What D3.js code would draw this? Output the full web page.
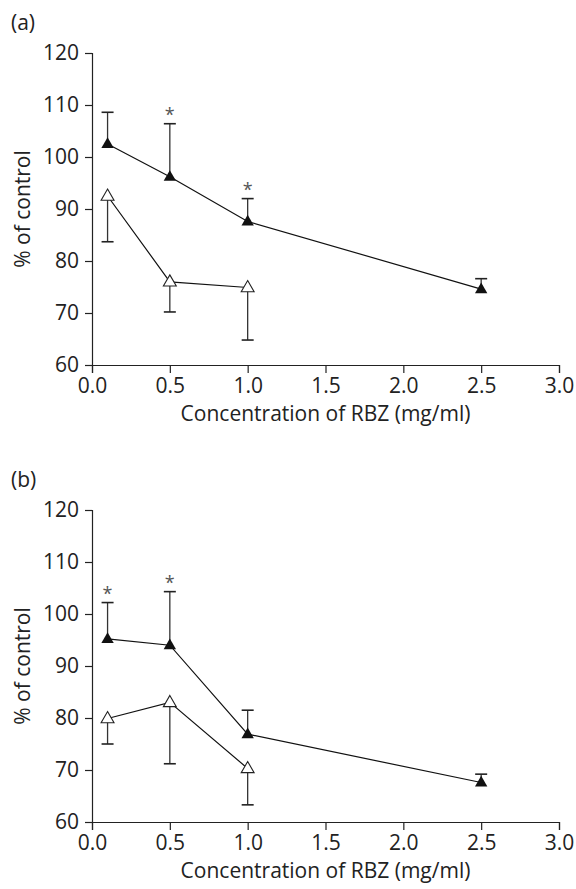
<html>
<script src="https://d3js.org/d3.v7.min.js"></script>
<style>
body{margin:0;background:#fff;}
svg text{font-family:"Open Sans",sans-serif;fill:#222;}
</style>
<div class="visualizations"></div>
<script>
const doses = [0.1, 0.5, 1.0, 2.5];
const xTicks = [0, 0.5, 1.0, 1.5, 2.0, 2.5, 3.0];
const yTicks = [60, 70, 80, 90, 100, 110, 120];

// panel (a)
const aFilledMean = [102.5, 96.2, 87.6, 74.6];
const aFilledSd = [6.1, 10.2, 4.4, 2.0];
const aOpenMean = [92.5, 76.0, 74.9];
const aOpenSd = [8.8, 5.8, 10.1];
const aStars = [0.5, 1.0];

// panel (b)
const bFilledMean = [95.2, 94.0, 76.9, 67.6];
const bFilledSd = [7.0, 10.3, 4.6, 1.6];
const bOpenMean = [79.9, 83.0, 70.3];
const bOpenSd = [4.9, 11.8, 7.0];
const bStars = [0.1, 0.5];

const panels = [
  {label:'(a)', top:53, filled:aFilledMean, filledSd:aFilledSd, open:aOpenMean, openSd:aOpenSd, stars:aStars},
  {label:'(b)', top:510, filled:bFilledMean, filledSd:bFilledSd, open:bOpenMean, openSd:bOpenSd, stars:bStars}
];

const width = 576, height = 889;
const left = 92, plotWidth = 467, plotHeight = 312;

const svg = d3.select('.visualizations').append('svg')
  .attr('width', width).attr('height', height);

const x = d3.scaleLinear().domain([0, 3]).range([0, plotWidth]);
const y = d3.scaleLinear().domain([60, 120]).range([plotHeight, 0]);

const line = d3.line().x(d=>x(d[0])).y(d=>y(d[1]));
const tri = d3.symbol(d3.symbolTriangle, 66);
const triOpen = d3.symbol(d3.symbolTriangle, 72);

function plot(p){
  const g = svg.append('g').attr('transform', `translate(${left},${p.top})`);

  svg.append('text').attr('x', 11).attr('y', p.top - 23)
    .attr('font-size', 21).text(p.label);

  const xAxis = g.append('g').attr('transform', `translate(0,${plotHeight})`)
    .call(d3.axisBottom(x).tickValues(xTicks).tickFormat(d3.format('.1f')).tickSizeOuter(0).tickSize(8).tickPadding(5));
  const yAxis = g.append('g')
    .call(d3.axisLeft(y).tickValues(yTicks).tickSizeOuter(0).tickSize(7).tickPadding(6));
  [xAxis, yAxis].forEach(a=>{
    a.selectAll('path,line').attr('stroke', '#222').attr('stroke-width', 1.2);
    a.selectAll('text').attr('font-size', 21).attr('fill', '#222')
      .attr('font-family', '"Open Sans",sans-serif');
  });

  g.append('text').attr('x', plotWidth/2).attr('y', plotHeight + 56)
    .attr('text-anchor', 'middle').attr('font-size', 21)
    .text('Concentration of RBZ (mg/ml)');
  g.append('text')
    .attr('transform', `translate(${-62},${plotHeight/2}) rotate(-90)`)
    .attr('text-anchor', 'middle').attr('font-size', 21)
    .text('% of control');

  const filled = doses.map((d,i)=>[d, p.filled[i], p.filledSd[i]]);
  const open = p.open.map((v,i)=>[doses[i], v, p.openSd[i]]);

  g.append('path').attr('d', line(filled)).attr('fill','none').attr('stroke','#111').attr('stroke-width',1.2);
  g.append('path').attr('d', line(open)).attr('fill','none').attr('stroke','#111').attr('stroke-width',1.2);

  // error bars: filled up, open down
  const bars = filled.map(d=>({x:d[0], from:d[1], to:d[1]+d[2]}))
    .concat(open.map(d=>({x:d[0], from:d[1], to:d[1]-d[2]})));
  g.selectAll('.eb').data(bars).enter().append('line')
    .attr('x1', d=>x(d.x)).attr('x2', d=>x(d.x))
    .attr('y1', d=>y(d.from)).attr('y2', d=>y(d.to))
    .attr('stroke', '#333').attr('stroke-width', 1.3);
  g.selectAll('.cap').data(bars).enter().append('line')
    .attr('x1', d=>x(d.x)-6).attr('x2', d=>x(d.x)+6)
    .attr('y1', d=>y(d.to)).attr('y2', d=>y(d.to))
    .attr('stroke', '#222').attr('stroke-width', 1.6);

  g.selectAll('.ot').data(open).enter().append('path')
    .attr('d', triOpen).attr('transform', d=>`translate(${x(d[0])},${y(d[1])+0.5})`)
    .attr('fill', '#fff').attr('stroke', '#222').attr('stroke-width', 1.1);
  g.selectAll('.ft').data(filled).enter().append('path')
    .attr('d', tri).attr('transform', d=>`translate(${x(d[0])},${y(d[1])+0.5})`)
    .attr('fill', '#111');

  g.selectAll('.star').data(p.stars).enter().append('text')
    .attr('x', d=>x(d))
    .attr('y', d=>{ const f = filled.find(e=>e[0]===d); return y(f[1]+f[2]) - 3; })
    .attr('text-anchor', 'middle').attr('font-size', 18)
    .attr('font-family', '"Liberation Serif",serif').style('fill', '#555')
    .text('*');
}

panels.forEach(plot);
</script>
</html>
